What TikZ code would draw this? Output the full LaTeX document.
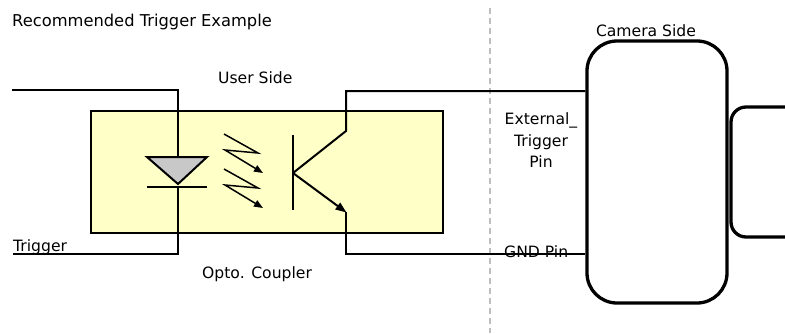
\documentclass[tikz,border=0pt]{standalone}
\usepackage{fontspec}
\setmainfont{DejaVu Sans}
\usetikzlibrary{arrows.meta}
\definecolor{boxyellow}{RGB}{255,255,200}
\definecolor{diodegray}{RGB}{200,200,200}
\definecolor{dashgray}{RGB}{190,190,190}
\begin{document}
\begin{tikzpicture}[x=1pt,y=-1pt,
  wire/.style={line width=2pt, line join=miter},
  lbl/.style={inner sep=0pt, font=\fontsize{15.6}{21.5}\selectfont},
  ray/.style={line width=1.5pt, -{Triangle[length=9pt,width=7pt]}},
  camframe/.style={draw, line width=3.3pt, rounded corners=30pt},
  portframe/.style={draw, line width=3.3pt, rounded corners=15pt}]
\useasboundingbox (0,0) rectangle (785,333);

% divider
\draw[dashgray, line width=1.2pt, dash pattern=on 6pt off 4pt] (490,8) -- (490,333);

% opto coupler box
\node[draw, fill=boxyellow, line width=2pt, minimum width=352pt, minimum height=122pt, inner sep=0pt] (opto) at (267,172) {};

% camera and port
\node[camframe, minimum width=140pt, minimum height=262pt, inner sep=0pt] (cam) at (657,172) {};
\node[portframe, minimum width=72pt, minimum height=130pt, inner sep=0pt] (port) at (767,172) {};

% coordinates
\coordinate (inA) at (12,90);
\coordinate (inB) at (13,254);
\coordinate (dtop) at (178,157);
\coordinate (dbot) at (178,186);
\coordinate (bc) at (293,173);
\coordinate (col) at (346,131);
\coordinate (emi) at (346,212);

% diode
\draw[wire] (inA) -- (178,90) -- (dtop);
\draw[wire, fill=diodegray] (147,157) -- (207,157) -- (178,184) -- cycle;
\draw[wire] (147,187) -- (207,187);
\draw[wire] (dbot) -- (178,254) -- (inB);

% light rays
\draw[ray] (224,134) -- (258,153) -- (225,150) -- (263,173);
\draw[ray] (224,169) -- (258,188) -- (225,185) -- (263,208);

% transistor
\draw[wire] (293,135) -- (293,210);
\draw[wire] (bc) -- (col) -- (346,91) -- (cam.west |- 0,91);
\draw[wire, -{Triangle[length=11pt,width=8pt]}] (bc) -- (346.5,212.5);
\draw[wire] (emi) -- (346,254) -- (cam.west |- 0,254);

% labels
\node[lbl, anchor=base west, font=\fontsize{16.3}{21.5}\selectfont] (title) at (12,26) {Recommended Trigger Example};
\node[lbl, anchor=base west] (user) at (218,83) {User Side};
\node[lbl, anchor=base west] (coupler) at (202,278) {Opto. Coupler};
\node[lbl, anchor=base west] (trig) at (13,251) {Trigger};
\node[lbl, anchor=base] (camside) at (646,36) {Camera Side};
\node[lbl, anchor=base] (ext1) at (541,124) {External\_};
\node[lbl, anchor=base] (ext2) at (541,146) {Trigger};
\node[lbl, anchor=base] (ext3) at (541,167) {Pin};
\node[lbl, anchor=base west] (gnd) at (504,257) {GND Pin};
\end{tikzpicture}
\end{document}
